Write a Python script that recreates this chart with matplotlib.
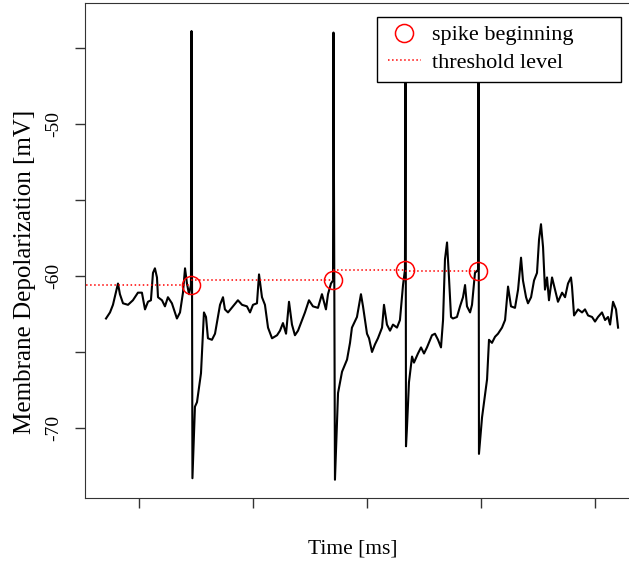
import matplotlib.pyplot as plt
from matplotlib.patches import Rectangle

plt.rcParams['font.family'] = ['Liberation Serif', 'DejaVu Serif']
plt.rcParams['font.size'] = 14

# membrane trace (time in ms, voltage in mV)
time = [71.1, 74.6, 77.2, 81.6, 83.3, 86.0, 90.4, 94.7, 99.1, 102.6, 105.3, 107.9,
        110.5, 112.3, 114.0, 115.8, 116.7, 120.2, 122.8, 125.4, 128.9, 133.3, 136.0,
        138.6, 140.4, 142.1, 143.9, 145.6, 146.1, 146.9, 149.1, 150.9, 154.4, 157.0,
        158.8, 160.5, 164.0, 166.7, 171.1, 173.7, 175.4, 178.1, 182.5, 186.8, 190.4,
        194.7, 197.4, 200.0, 203.5, 205.3, 207.9, 210.5, 213.2, 216.7, 221.1, 223.7,
        226.3, 229.0, 231.6, 234.2, 236.8, 239.5, 243.0, 245.6, 249.1, 252.6, 257.0,
        260.5, 264.0, 265.8, 268.4, 270.2, 270.6, 271.9, 274.6, 278.1, 282.5, 285.1,
        286.8, 291.2, 294.7, 296.5, 300.0, 301.8, 304.4, 307.0, 309.6, 313.2, 314.9,
        317.5, 320.2, 322.8, 326.3, 328.9, 331.6, 333.3, 333.8, 334.2, 335.1, 336.8,
        339.5, 341.2, 344.7, 347.4, 350.0, 352.6, 357.0, 359.6, 362.3, 364.9, 366.7,
        368.4, 370.2, 371.9, 373.7, 375.4, 378.9, 381.6, 384.2, 386.0, 387.7, 390.4,
        392.1, 394.7, 397.4, 397.8, 398.2, 400.9, 405.3, 407.0, 409.6, 412.3, 414.9,
        418.4, 421.1, 423.7, 426.3, 429.8, 432.5, 435.1, 436.8, 439.5, 441.2, 443.9,
        446.5, 449.1, 450.9, 452.6, 454.4, 456.1, 457.9, 459.6, 462.3, 464.9, 467.5,
        471.1, 473.7, 476.3, 478.9, 479.8, 481.6, 485.1, 488.6, 491.2, 493.9, 497.4,
        500.0, 502.6, 506.1, 508.8, 511.4, 513.2, 515.8, 518.4, 520.2]
volt = [-62.8, -62.4, -61.9, -60.5, -61.2, -61.8, -61.9, -61.6, -61.1, -61.1, -62.2, -61.7,
        -61.6, -59.8, -59.5, -60.1, -61.4, -61.6, -62.0, -61.4, -61.8, -62.8, -62.4,
        -61.1, -59.5, -60.5, -61.2, -60.6, -43.9, -73.3, -68.6, -68.3, -66.4, -62.4,
        -62.7, -64.1, -64.2, -63.8, -61.9, -61.4, -62.2, -62.4, -62.0, -61.6, -61.9,
        -62.0, -62.4, -61.9, -61.8, -59.9, -61.4, -61.9, -63.4, -64.1, -63.9, -63.6,
        -63.1, -63.8, -61.7, -63.2, -63.9, -63.6, -62.9, -62.4, -61.6, -62.0, -62.1,
        -61.2, -62.2, -61.2, -60.5, -60.3, -44.0, -73.4, -67.7, -66.3, -65.5, -64.4,
        -63.4, -62.7, -61.2, -62.0, -63.8, -64.1, -65.0, -64.5, -64.1, -63.4, -61.9,
        -63.2, -63.6, -63.2, -63.4, -62.9, -60.6, -59.6, -44.0, -71.2, -69.9, -67.0,
        -65.3, -65.7, -65.1, -64.7, -65.1, -64.7, -63.9, -63.8, -64.2, -64.7, -62.9,
        -58.9, -57.8, -60.1, -62.7, -62.8, -62.7, -62.0, -61.4, -60.6, -62.0, -62.4,
        -61.9, -59.8, -59.6, -44.0, -71.7, -69.3, -66.8, -64.2, -64.4, -64.0, -63.8,
        -63.4, -62.9, -60.7, -62.0, -62.1, -60.9, -58.8, -60.3, -61.4, -61.8, -61.4,
        -60.3, -59.8, -57.6, -56.6, -58.1, -60.9, -60.1, -61.6, -60.1, -60.9, -61.7,
        -61.1, -61.4, -60.5, -60.1, -60.7, -62.6, -62.2, -62.4, -62.2, -62.6, -62.7,
        -63.0, -62.7, -62.4, -62.9, -62.7, -63.2, -61.7, -62.2, -63.4]

# spike onsets and threshold estimates
spike_t = [145.6, 270.2, 333.3, 397.4]
spike_v = [-60.6, -60.3, -59.6, -59.7]
thr_start = [50.0, 145.6, 270.2, 333.3]

fig = plt.figure(figsize=(6.29, 5.65), dpi=100)
ax = fig.add_axes([0.135, 0.1186, 0.9, 0.876])

ax.plot(time, volt, color='black', linewidth=1.5, zorder=2)
for k in range(len(spike_t)):
    ax.plot([thr_start[k], spike_t[k]], [spike_v[k], spike_v[k]], color='red',
            linestyle=':', linewidth=1.1, zorder=3,
            label='threshold level' if k == 0 else None)
ax.plot(spike_t, spike_v, linestyle='none', marker='o', markersize=13,
        markerfacecolor='none', markeredgecolor='red', markeredgewidth=1.1,
        zorder=4, label='spike beginning')

ax.set_xlim(52.6, 549.1)
ax.set_ylim(-74.6, -42.06)
ax.set_xticks([100, 200, 300, 400, 500])
ax.set_xticklabels([])
ax.set_yticks([-45, -50, -55, -60, -65, -70])
ax.set_yticklabels(['', '-50', '', '-60', '', '-70'], rotation=90, va='center')
ax.tick_params(direction='out', length=7, width=1, colors='#333333', labelcolor='black')
ax.tick_params(axis='y', pad=9)
for s in ax.spines.values():
    s.set_color('#333333')
ax.spines['right'].set_visible(False)

ax.set_xlabel('Time [ms]', fontsize=15.5)
ax.xaxis.set_label_coords(0.4735, -0.083)
ax.set_ylabel('Membrane Depolarization [mV]', fontsize=18)
ax.yaxis.set_label_coords(-0.087, 0.457)

# legend box (white, drawn over the spikes)
ax.add_patch(Rectangle((0.516, 0.840), 0.431, 0.131, transform=ax.transAxes,
                       facecolor='white', edgecolor='black', linewidth=1.0,
                       zorder=9, clip_on=False))
handles, labels = ax.get_legend_handles_labels()
leg = ax.legend(handles[::-1], labels[::-1], loc='upper left',
                bbox_to_anchor=(0.535, 0.956), borderaxespad=0, frameon=False,
                fontsize=16, handlelength=1.5, handletextpad=0.5, borderpad=0,
                labelspacing=0.3)
leg.set_zorder(10)

fig.savefig('out.png', dpi=100)
